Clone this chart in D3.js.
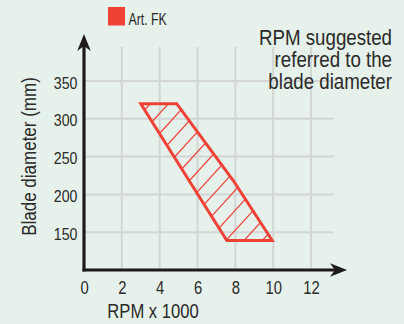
<!DOCTYPE html>
<html>
<head>
<meta charset="utf-8">
<script src="https://cdn.jsdelivr.net/npm/d3@7"></script>
<style>
  html, body { margin: 0; padding: 0; background: #e5f1ea; }
  svg { display: block; }
  text { font-family: "Liberation Sans", Arial, sans-serif; fill: #2b2a29; }
</style>
</head>
<body>
<svg id="chart" width="404" height="324"></svg>
<script>
// ---- data ----
const xTicks = [0, 2, 4, 6, 8, 10, 12];
const yTicks = [150, 200, 250, 300, 350];
const regionRPM = [3, 4.9, 7.9, 9.95, 7.55];      // RPM x 1000
const regionDiameter = [320, 320, 218, 139, 139]; // mm
const seriesName = "Art. FK";
const titleLines = ["RPM suggested", "referred to the", "blade diameter"];
const xTitle = "RPM x 1000";
const yTitle = "Blade diameter (mm)";

// ---- layout ----
const W = 404, H = 324;
const red = "#ef4136";
const svg = d3.select("#chart");
svg.append("rect").attr("width", W).attr("height", H).attr("fill", "#e5f1ea");

// condensed text: place a text at (tx,ty) with optional rotation, squeezed horizontally by f
function ctext(parent, tx, ty, f, rot) {
  const g = parent.append("g")
    .attr("transform", `translate(${tx},${ty})` + (rot ? ` rotate(${rot})` : "") + ` scale(${f},1)`);
  return g.append("text").attr("x", 0).attr("y", 0);
}

const x = d3.scaleLinear().domain([0, 12]).range([84, 311]);
const y = d3.scaleLinear().domain([100, 350]).range([270, 81]);

const gridColor = "#d3d6d4";
svg.append("g").selectAll("line").data(xTicks.filter(d => d > 0)).join("line")
  .attr("x1", d => x(d)).attr("x2", d => x(d))
  .attr("y1", y(100)).attr("y2", y(395))
  .attr("stroke", gridColor).attr("stroke-width", 2);
svg.append("g").selectAll("line").data(yTicks).join("line")
  .attr("x1", x(0)).attr("x2", x(13.2))
  .attr("y1", d => y(d)).attr("y2", d => y(d))
  .attr("stroke", gridColor).attr("stroke-width", 2);

// region polygon
const pts = regionRPM.map((r, i) => [x(r), y(regionDiameter[i])]);
const defs = svg.append("defs");
defs.append("clipPath").attr("id", "regionClip")
  .append("polygon").attr("points", pts.map(p => p.join(",")).join(" "));

// hatch lines
const k = 1.1, step = 20, b0 = 269;
const bs = pts.map(p => p[1] + k * p[0]);
const bMin = d3.min(bs), bMax = d3.max(bs);
const hatch = [];
for (let n = Math.floor((bMin - b0) / step); b0 + n * step <= bMax; n++) {
  const b = b0 + n * step;
  if (b >= bMin) hatch.push(b);
}
const xLo = d3.min(pts, p => p[0]) - 5, xHi = d3.max(pts, p => p[0]) + 5;
svg.append("g").attr("clip-path", "url(#regionClip)")
  .selectAll("line").data(hatch).join("line")
  .attr("x1", xLo).attr("y1", b => b - k * xLo)
  .attr("x2", xHi).attr("y2", b => b - k * xHi)
  .attr("stroke", red).attr("stroke-width", 1.2);

svg.append("polygon")
  .attr("points", pts.map(p => p.join(",")).join(" "))
  .attr("fill", "none").attr("stroke", red).attr("stroke-width", 3)
  .attr("stroke-linejoin", "miter");

// axes
const axisColor = "#1d1a19";
const x0 = x(0), y0 = y(100);
svg.append("line").attr("x1", x0).attr("x2", x0).attr("y1", y0 + 1.5).attr("y2", 44)
  .attr("stroke", axisColor).attr("stroke-width", 3.2);
svg.append("line").attr("x1", x0 - 1.5).attr("x2", 337).attr("y1", y0).attr("y2", y0)
  .attr("stroke", axisColor).attr("stroke-width", 3.2);
svg.append("path")
  .attr("d", `M${x0},34 L${x0 + 6.8},51 L${x0},46 L${x0 - 6.8},51 Z`)
  .attr("fill", axisColor);
svg.append("path")
  .attr("d", `M347,${y0} L330,${y0 - 6.8} L335,${y0} L330,${y0 + 6.8} Z`)
  .attr("fill", axisColor);

// tick labels
const xLab = svg.append("g");
xTicks.forEach(d => {
  ctext(xLab, x(d) + 0.5, 293.5, 0.8).attr("text-anchor", "middle").attr("font-size", 18.5).text(d);
});
const yLab = svg.append("g");
yTicks.forEach(d => {
  ctext(yLab, 77.5, y(d) + 7.6, 0.86).attr("text-anchor", "end").attr("font-size", 16.5).text(d);
});

// axis titles
ctext(svg, 153, 318, 0.81).attr("text-anchor", "middle").attr("font-size", 20.5).text(xTitle);
ctext(svg, 35.5, 156.5, 0.81, -90).attr("text-anchor", "middle").attr("font-size", 21).text(yTitle);

// legend
svg.append("rect").attr("x", 108).attr("y", 7).attr("width", 17).attr("height", 18.5).attr("fill", red);
ctext(svg, 128.5, 25.3, 0.77).attr("font-size", 16).text(seriesName);

// title
titleLines.forEach((t, i) => {
  ctext(svg, 392, 44.7 + i * 22, 0.85).attr("text-anchor", "end").attr("font-size", 22).text(t);
});
</script>
</body>
</html>
